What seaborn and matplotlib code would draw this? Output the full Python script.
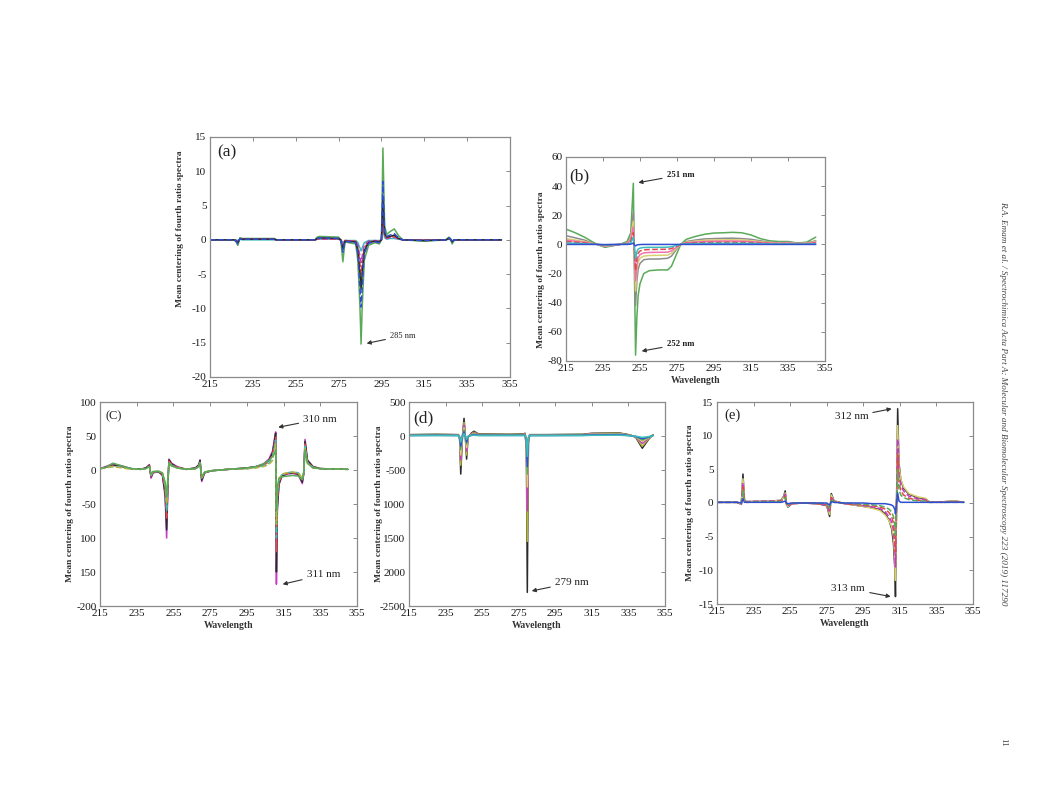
import matplotlib
matplotlib.use("Agg")
import matplotlib.pyplot as plt
import seaborn as sns

sns.set_theme(style="white")
plt.rcParams['font.family'] = ['Liberation Serif', 'DejaVu Serif']
plt.rcParams['axes.unicode_minus'] = False

# ---------------- data ----------------
XTICKS = [215, 235, 255, 275, 295, 315, 335, 355]

# panel (a)
wl_a = [215, 226, 227, 228, 229, 230, 245, 246, 264, 265, 266, 275, 276, 276.5, 277, 278, 283, 284, 285, 285.5,
        286, 287, 289, 292, 294, 295, 295.7, 296.5, 297.5, 299, 301, 303, 305, 315, 325, 326.5, 327.2, 328, 329, 351]
a_green = [0, 0, -0.2, -0.8, 0.3, 0.2, 0.2, 0, 0, 0.4, 0.5, 0.4, 0, -1.5, -3.2, -0.3, -0.6, -3, -10, -15.2,
           -10, -3, -0.8, -0.4, -0.6, 0, 13.4, 2, 0.8, 1.2, 1.6, 0.6, 0, -0.2, 0, 0.4, 0.2, -0.6, 0, 0]
a_blue = [0, 0, -0.1, -0.6, 0.2, 0.1, 0.1, 0, 0, 0.2, 0.3, 0.2, 0, -0.8, -1.8, -0.2, -0.4, -2, -7, -9.8,
          -7, -2, -0.5, -0.3, -0.4, 0, 8.5, 1.2, 0.5, 0.7, 0.9, 0.3, 0, -0.1, 0, 0.3, 0.1, -0.4, 0, 0]
a_black = [0, 0, -0.1, -0.4, 0.2, 0.1, 0.1, 0, 0, 0.2, 0.3, 0.2, 0, -0.6, -1.4, -0.2, -0.3, -1.6, -5, -7.2,
           -5, -1.6, -0.4, -0.2, -0.3, 0, 6, 0.9, 0.4, 0.5, 0.7, 0.2, 0, -0.1, 0, 0.2, 0.1, -0.3, 0, 0]
a_red = [0, 0, -0.1, -0.3, 0.1, 0.1, 0.1, 0, 0, 0.1, 0.2, 0.1, 0, -0.4, -1, -0.1, -0.2, -1.2, -3.5, -5,
         -3.5, -1.2, -0.3, -0.2, -0.2, 0, 4.2, 0.6, 0.3, 0.4, 0.5, 0.2, 0, 0, 0, 0.2, 0.1, -0.2, 0, 0]
a_magenta = [0, 0, -0.1, -0.2, 0.1, 0.1, 0.1, 0, 0, 0.1, 0.1, 0.1, 0, -0.3, -0.7, -0.1, -0.2, -0.8, -2.4, -3.3,
             -2.4, -0.8, -0.2, -0.1, -0.2, 0, 3.0, 0.4, 0.2, 0.3, 0.4, 0.1, 0, 0, 0, 0.1, 0.1, -0.2, 0, 0]
a_cyan = [0, 0, 0, -0.1, 0.1, 0, 0, 0, 0, 0.1, 0.1, 0.1, 0, -0.2, -0.4, -0.1, -0.1, -0.4, -1.2, -1.6,
          -1.2, -0.4, -0.1, -0.1, -0.1, 0, 1.8, 0.3, 0.1, 0.2, 0.2, 0.1, 0, 0, 0, 0.1, 0, -0.1, 0, 0]

# panel (b)
wl_b = [215, 220, 225, 229, 232, 236, 240, 244, 248, 250, 250.7, 251.4, 252, 252.6, 253.3, 254, 255, 257, 260,
        265, 270, 272, 275, 277, 280, 285, 290, 295, 300, 305, 310, 315, 320, 325, 330, 335, 340, 345, 350]
b_green = [10.5, 8, 5, 2, 0, -2, -1, 0, 2, 8, 25, 42, -20, -76, -50, -35, -27, -20, -18,
           -17.5, -17.5, -15, -6, 0, 3.5, 5.5, 7, 7.8, 8, 8.3, 8, 6.5, 4, 2.5, 2, 2, 1, 1.5, 5]
b_gray = [6, 4.5, 3, 1, 0, -1.5, -0.8, 0, 1, 5, 15, 22, -10, -42, -25, -17, -13, -10.5, -10,
          -10, -9.5, -8, -3, 0, 2, 3, 3.8, 4, 4.2, 4.3, 4, 3.5, 2.5, 1.5, 1.2, 1.5, 0.8, 1, 2.5]
b_yellow = [4, 3, 2, 0.8, 0, -1.2, -0.6, 0, 0.8, 4, 11, 16, -8, -32, -18, -12, -9.5, -8, -7.6,
            -7.5, -7.3, -6, -2.5, 0, 1.5, 2.3, 2.8, 3, 3.1, 3.2, 3, 2.6, 1.9, 1.2, 1, 1.2, 0.6, 0.8, 2]
b_pink = [3, 2.2, 1.5, 0.6, 0, -1, -0.5, 0, 0.6, 3, 8, 12, -6, -25, -14, -9, -7, -5.8, -5.5,
          -5.4, -5.3, -4.4, -1.8, 0, 1.1, 1.7, 2, 2.2, 2.3, 2.3, 2.2, 1.9, 1.4, 0.9, 0.8, 0.9, 0.5, 0.6, 1.5]
b_red = [2, 1.5, 1, 0.4, 0, -0.7, -0.3, 0, 0.4, 2, 5, 8, -4, -18, -9, -6, -4.5, -3.7, -3.5,
         -3.4, -3.3, -2.8, -1.2, 0, 0.7, 1.1, 1.3, 1.4, 1.5, 1.5, 1.4, 1.2, 0.9, 0.6, 0.5, 0.6, 0.3, 0.4, 1]
b_cyan = [1, 0.8, 0.5, 0.2, 0, -0.4, -0.2, 0, 0.2, 1, 3, 5, -2, -10, -5, -3.2, -2.5, -2.1, -2,
          -2, -1.9, -1.6, -0.7, 0, 0.4, 0.6, 0.7, 0.8, 0.8, 0.8, 0.8, 0.7, 0.5, 0.3, 0.3, 0.3, 0.2, 0.2, 0.5]
b_blue = [0, 0, 0, 0, 0, -0.1, 0, 0, 0, 0.2, 0.5, 1, -0.5, -1, -0.4, -0.2, -0.1, 0, 0,
          0, 0, 0, 0, 0, 0, 0, 0, 0, 0, 0, 0, 0, 0, 0, 0, 0, 0, 0, 0]

# panel (c)
wl_c = [215, 218, 222, 227, 232, 237, 240, 241.9, 242.8, 244, 247, 249, 250.5, 251.3, 252, 252.6, 254, 257,
        262, 267, 268.8, 269.5, 270.4, 272, 276, 285, 295, 300, 304, 307, 309, 310, 310.7, 311.1, 311.6,
        312.5, 314, 317, 320, 323, 325.2, 326, 326.7, 328, 331, 335, 350]
c_magenta = [2, 5, 9, 6, 2, 1, 3, 8, -12, -4, -3, -8, -40, -100, -20, 16, 10, 5,
             1, 3, 8, 15, -17, -4, -1, 1, 3, 5, 9, 16, 28, 45, 56, -168, -60,
             -22, -10, -6, -5, -7, -20, -5, 45, 15, 5, 2, 1]
c_black = [2, 4, 7, 5, 2, 1, 3, 7, -10, -3, -3, -7, -35, -88, -18, 15, 9, 4,
           1, 3, 7, 14, -15, -4, -1, 1, 3, 5, 8, 14, 25, 42, 54, -150, -55,
           -20, -9, -5, -4, -6, -18, -5, 42, 14, 5, 2, 1]
c_red = [2, 4, 6, 4, 2, 1, 2, 6, -9, -3, -2, -6, -28, -72, -15, 13, 8, 4,
         1, 2, 6, 12, -13, -3, -1, 1, 2, 4, 7, 12, 22, 38, 48, -120, -45,
         -18, -8, -5, -4, -5, -16, -4, 38, 12, 4, 2, 1]
c_cyan = [2, 3, 5, 4, 2, 1, 2, 5, -8, -3, -2, -5, -24, -60, -13, 12, 7, 3,
          1, 2, 5, 11, -12, -3, -1, 1, 2, 4, 6, 10, 18, 34, 44, -100, -38,
          -15, -7, -4, -3, -4, -14, -4, 35, 11, 4, 2, 1]
c_olive = [2, 3, 5, 3, 1, 1, 2, 5, -7, -2, -2, -5, -20, -50, -11, 11, 6, 3,
           1, 2, 5, 10, -11, -3, -1, 1, 2, 3, 5, 8, 14, 28, 38, -80, -30,
           -13, -6, -4, -3, -4, -12, -3, 32, 10, 3, 2, 1]
c_green = [2, 4, 10, 6, 2, 1, 2, 5, -6, -2, -2, -4, -18, -40, -10, 10, 6, 3,
           1, 2, 5, 10, -10, -3, -1, 1, 3, 5, 9, 14, 20, 24, 30, -60, -25,
           -12, -10, -9, -8, -9, -14, -3, 30, 10, 3, 2, 1]

# panel (d)
wl_d = [215, 230, 242, 242.7, 243.3, 244.2, 245.1, 245.8, 246.5, 247.3, 249, 250.5, 253, 270, 277.5, 278.5,
        279.2, 279.7, 280.3, 281, 290, 310, 315, 330, 336, 339, 342.6, 346, 348.5]
d_black = [20, 25, 20, -50, -560, -20, 260, 0, -340, -20, 40, 70, 30, 25, 30, 40,
           -200, -2300, -100, 20, 20, 25, 40, 45, 15, -20, -180, -50, 20]
d_olive = [18, 22, 18, -40, -430, -15, 200, 0, -280, -15, 30, 55, 25, 22, 25, 35,
           -150, -1550, -80, 18, 18, 22, 35, 40, 12, -15, -150, -40, 18]
d_magenta = [15, 18, 15, -30, -350, -12, 160, 0, -220, -12, 25, 45, 20, 18, 20, 30,
             -120, -1100, -60, 15, 15, 18, 30, 35, 10, -12, -110, -30, 15]
d_yellow = [12, 15, 12, -25, -280, -10, 120, 0, -170, -10, 20, 35, 16, 15, 16, 25,
            -90, -750, -50, 12, 12, 15, 25, 30, 8, -10, -80, -25, 12]
d_green = [10, 12, 10, -20, -200, -8, 90, 0, -120, -8, 15, 28, 12, 12, 12, 20,
           -70, -560, -40, 10, 10, 12, 20, 25, 6, -8, -60, -20, 10]
d_blue = [8, 10, 8, -15, -150, -6, 60, 0, -90, -6, 10, 20, 10, 10, 10, 15,
          -50, -450, -30, 8, 8, 10, 15, 20, 5, -6, -40, -15, 8]
d_cyan = [5, 6, 5, -10, -90, -4, 35, 0, -50, -4, 6, 12, 6, 6, 6, 10,
          -30, -300, -20, 5, 5, 6, 10, 12, 3, -4, -20, -10, 5]

# panel (e)
wl_e = [215, 226, 228.3, 229.2, 230, 231, 245, 250, 251.5, 252.3, 253, 253.8, 256, 262, 270, 275, 276.6,
        277.5, 279, 285, 290, 295, 300, 304, 307, 309, 310.5, 311.5, 312.3, 312.6, 313.8, 314.5, 315.5,
        317, 320, 325, 329, 330.5, 331.5, 340, 345, 350]
e_black = [0.1, 0.1, -0.2, 4.3, 0.5, 0.2, 0.3, 0.4, 1.0, 1.8, -0.2, -0.6, -0.1, 0, -0.1, -0.4, -2.0,
           1.4, 0.3, -0.1, -0.3, -0.5, -0.7, -1.0, -1.6, -2.5, -3.8, -6, -10, -13.9, 14, 6, 3.5,
           2.2, 1.3, 0.8, 0.6, 0.3, 0.1, 0.2, 0.3, 0.1]
e_olive = [0.1, 0.1, -0.2, 3.6, 0.4, 0.2, 0.3, 0.4, 0.9, 1.5, -0.2, -0.5, -0.1, 0, -0.1, -0.3, -1.7,
           1.2, 0.3, -0.1, -0.3, -0.5, -0.8, -1.1, -1.8, -2.6, -3.5, -5, -8.5, -11.5, 11.5, 5.5, 3.6,
           2.4, 1.4, 0.9, 0.7, 0.3, 0.1, 0.2, 0.3, 0.1]
e_magenta = [0.1, 0.1, -0.2, 3.0, 0.4, 0.2, 0.3, 0.3, 0.8, 1.3, -0.1, -0.4, -0.1, 0, -0.1, -0.3, -1.4,
             1.0, 0.2, -0.1, -0.2, -0.4, -0.6, -0.8, -1.3, -2.0, -2.8, -4, -7, -9.5, 9.5, 4.2, 2.7,
             1.8, 1.0, 0.6, 0.5, 0.2, 0.1, 0.2, 0.2, 0.1]
e_red = [0.1, 0.1, -0.1, 2.4, 0.3, 0.1, 0.2, 0.3, 0.6, 1.0, -0.1, -0.3, -0.1, 0, -0.1, -0.2, -1.1,
         0.8, 0.2, -0.1, -0.2, -0.3, -0.4, -0.6, -0.9, -1.4, -2.0, -3, -5, -7.2, 7.2, 3.0, 1.9,
         1.2, 0.7, 0.4, 0.4, 0.2, 0.1, 0.1, 0.2, 0.1]
e_green = [0.1, 0.1, -0.1, 1.8, 0.2, 0.1, 0.2, 0.2, 0.5, 0.8, -0.1, -0.2, 0, 0, 0, -0.1, -0.8,
           0.6, 0.1, 0, -0.1, -0.2, -0.3, -0.4, -0.6, -0.9, -1.3, -2, -3.5, -5, 5, 2, 1.2,
           0.8, 0.5, 0.3, 0.3, 0.1, 0.1, 0.1, 0.1, 0.1]
e_blue = [0.1, 0.1, 0, 0.6, 0.1, 0.1, 0.1, 0.1, 0.2, 0.3, 0, -0.1, 0, 0, 0, 0, -0.3,
          0.2, 0.1, 0, 0, 0, -0.1, -0.1, -0.1, -0.2, -0.3, -0.5, -1.0, -1.6, 1.5, 0.3, 0.1,
          0.1, 0.1, 0.1, 0.1, 0.1, 0.1, 0.1, 0.1, 0.1]

C_BLUE, C_GREEN, C_RED = '#2f4fd0', '#5aaa5a', '#e04a4a'
C_CYAN, C_MAG, C_OLIVE = '#3cbcbc', '#c43cc4', '#b4b43a'
C_BLACK, C_GRAY, C_PINK, C_YEL = '#2a2a2a', '#8c8c8c', '#f070b0', '#d8d070'

panels = [
    dict(pos=[210, 137, 510, 377], wl=wl_a,
         series=[(a_green, C_GREEN, '-'), (a_cyan, C_CYAN, '-'), (a_magenta, C_MAG, '--'), (a_red, C_RED, '--'),
                 (a_black, C_BLACK, '-'), (a_blue, C_BLUE, '--')],
         ylim=(-20, 15), yticks=[-20, -15, -10, -5, 0, 5, 10, 15], ylabels=None,
         tag='(a)', tagsize=12.5, tagpos=(0.025, 0.935), xlabel=False, ylabpos=(-0.085, 0.62)),
    dict(pos=[566, 157, 825, 361], wl=wl_b,
         series=[(b_green, C_GREEN, '-'), (b_gray, C_GRAY, '-'), (b_yellow, C_YEL, '-'), (b_pink, C_PINK, '-'),
                 (b_red, C_RED, '--'), (b_cyan, C_CYAN, '-'), (b_blue, C_BLUE, '-')],
         ylim=(-80, 60), yticks=[-80, -60, -40, -20, 0, 20, 40, 60], ylabels=None,
         tag='(b)', tagsize=12.5, tagpos=(0.012, 0.905), xlabel=True, ylabpos=(-0.08, 0.45)),
    dict(pos=[100, 402, 357, 606], wl=wl_c,
         series=[(c_magenta, C_MAG, '-'), (c_black, C_BLACK, '-'), (c_red, C_RED, '--'), (c_cyan, C_CYAN, '--'),
                 (c_olive, C_OLIVE, '--'), (c_green, C_GREEN, '-')],
         ylim=(-200, 100), yticks=[-200, -150, -100, -50, 0, 50, 100],
         ylabels=['-200', '150', '100', '-50', '0', '50', '100'],
         tag='(C)', tagsize=9, tagpos=(0.02, 0.93), xlabel=True, ylabpos=(-0.1, 0.5)),
    dict(pos=[409, 402, 665, 606], wl=wl_d,
         series=[(d_black, C_BLACK, '-'), (d_olive, C_OLIVE, '-'), (d_magenta, C_MAG, '-'), (d_yellow, C_YEL, '-'),
                 (d_green, C_GREEN, '-'), (d_blue, C_BLUE, '-'), (d_cyan, C_CYAN, '-')],
         ylim=(-2500, 500), yticks=[-2500, -2000, -1500, -1000, -500, 0, 500],
         ylabels=['-2500', '2000', '1500', '1000', '-500', '0', '500'],
         tag='(d)', tagsize=12.5, tagpos=(0.016, 0.92), xlabel=True, ylabpos=(-0.1, 0.5)),
    dict(pos=[717, 402, 973, 604], wl=wl_e,
         series=[(e_black, C_BLACK, '-'), (e_olive, C_YEL, '-'), (e_magenta, C_MAG, '--'), (e_red, C_RED, '--'),
                 (e_green, C_GREEN, '--'), (e_blue, C_BLUE, '-')],
         ylim=(-15, 15), yticks=[-15, -10, -5, 0, 5, 10, 15], ylabels=None,
         tag='(e)', tagsize=10.5, tagpos=(0.03, 0.935), xlabel=True, ylabpos=(-0.09, 0.5)),
]

W, H = 1057, 793
fig = plt.figure(figsize=(W / 100, H / 100), dpi=100)
fig.patch.set_facecolor('white')

axes = []
for p in panels:
    l, t, r, b = p['pos']
    ax = fig.add_axes([l / W, 1 - b / H, (r - l) / W, (b - t) / H])
    ax.set_facecolor('white')
    for vals, col, ls in p['series']:
        sns.lineplot(x=p['wl'], y=vals, ax=ax, color=col, lw=1.1, linestyle=ls, sort=False, estimator=None)
    ax.set_xlim(215, 355)
    ax.set_ylim(*p['ylim'])
    ax.set_xticks(XTICKS)
    ax.set_xticklabels([str(v) for v in XTICKS])
    ax.set_yticks(p['yticks'])
    if p['ylabels']:
        ax.set_yticklabels(p['ylabels'])
    ax.tick_params(direction='in', top=True, right=True, length=3, width=0.6,
                   color='#777777', labelsize=8, labelcolor='#1a1a1a', pad=2.5)
    for s in ax.spines.values():
        s.set_color('#8a8a8a')
        s.set_linewidth(0.9)
    ax.set_ylabel('Mean centering of fourth ratio spectra', fontsize=6.8, fontweight='bold', color='#333333')
    ax.yaxis.set_label_coords(*p['ylabpos'])
    if p['xlabel']:
        ax.set_xlabel('Wavelength', fontsize=7, fontweight='bold', color='#333333', labelpad=2)
    else:
        ax.set_xlabel('')
    ax.text(p['tagpos'][0], p['tagpos'][1], p['tag'], transform=ax.transAxes, fontsize=p['tagsize'],
            ha='left', va='center', color='#222222')
    axes.append(ax)

arrow = dict(arrowstyle='-|>', color='#333333', lw=0.8, mutation_scale=6, shrinkA=1, shrinkB=0)
ax_a, ax_b, ax_c, ax_d, ax_e = axes
ax_a.annotate('285 nm', xy=(288.1, -15.1), xytext=(299, -14), fontsize=6, ha='left', va='center',
              arrowprops=arrow, color='#222222')
ax_b.annotate('251 nm', xy=(254.1, 42.4), xytext=(269.4, 47.6), fontsize=6.3, fontweight='bold',
              ha='left', va='center', arrowprops=arrow, color='#222222')
ax_b.annotate('252 nm', xy=(255.9, -73.2), xytext=(269.4, -68.4), fontsize=6.3, fontweight='bold',
              ha='left', va='center', arrowprops=arrow, color='#222222')
ax_c.annotate('310 nm', xy=(312.1, 62.8), xytext=(325.7, 75), fontsize=8, ha='left', va='center',
              arrowprops=arrow, color='#222222')
ax_c.annotate('311 nm', xy=(314.5, -168), xytext=(327.6, -154), fontsize=8, ha='left', va='center',
              arrowprops=arrow, color='#222222')
ax_d.annotate('279 nm', xy=(282.1, -2279), xytext=(294.8, -2157), fontsize=8, ha='left', va='center',
              arrowprops=arrow, color='#222222')
ax_e.annotate('312 nm', xy=(310.5, 14.0), xytext=(297.7, 12.8), fontsize=8, ha='right', va='center',
              arrowprops=arrow, color='#222222')
ax_e.annotate('313 nm', xy=(310.0, -13.9), xytext=(296.0, -12.7), fontsize=8, ha='right', va='center',
              arrowprops=arrow, color='#222222')

fig.text(1003 / W, 1 - 403 / H,
         'R.A. Emam et al. / Spectrochimica Acta Part A: Molecular and Biomolecular Spectroscopy 223 (2019) 117290',
         rotation=270, fontsize=6.6, style='italic', ha='center', va='center', color='#444444')
fig.text(1003 / W, 1 - 742 / H, '11', rotation=270, fontsize=6.6, ha='center', va='center', color='#444444')

fig.savefig('out.png', dpi=100, facecolor='white')
